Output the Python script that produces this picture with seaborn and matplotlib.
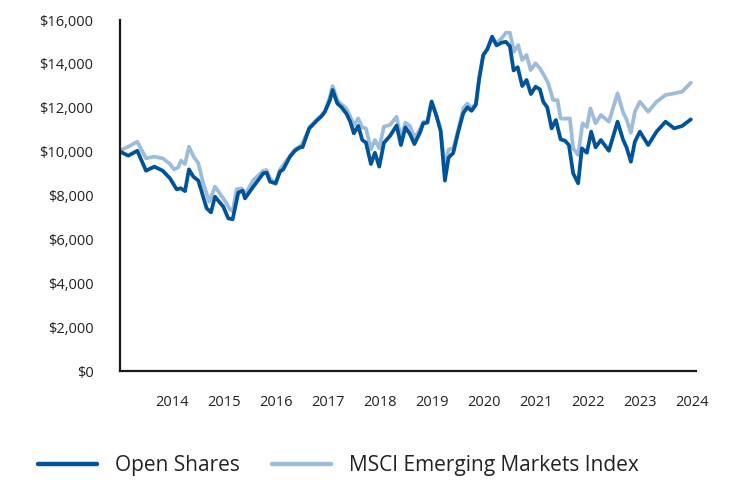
import matplotlib
matplotlib.use("Agg")
import matplotlib.pyplot as plt
import matplotlib.ticker as mticker
from matplotlib.lines import Line2D
import seaborn as sns
import pandas as pd

# ---- data (decimal years, dollar values) ----
fund_t = [2013.000, 2013.160, 2013.333, 2013.500, 2013.660, 2013.821, 2013.962,
          2014.090, 2014.167, 2014.250, 2014.327, 2014.410, 2014.506, 2014.667, 2014.750, 2014.827, 2014.987,
          2015.083, 2015.167, 2015.275, 2015.360, 2015.404, 2015.563, 2015.756, 2015.821, 2015.885, 2015.994,
          2016.077, 2016.140, 2016.269, 2016.365, 2016.462, 2016.513, 2016.640, 2016.706, 2016.783, 2016.878, 2016.942,
          2017.038, 2017.090, 2017.179, 2017.263, 2017.359, 2017.429, 2017.498, 2017.583, 2017.660, 2017.731, 2017.827, 2017.904, 2017.987,
          2018.077, 2018.192, 2018.321, 2018.404, 2018.490, 2018.577, 2018.663, 2018.769, 2018.833, 2018.913, 2018.994,
          2019.090, 2019.167, 2019.250, 2019.321, 2019.410, 2019.506, 2019.603, 2019.683, 2019.763, 2019.846, 2019.908, 2019.987,
          2020.067, 2020.158, 2020.244, 2020.340, 2020.423, 2020.500, 2020.571, 2020.650, 2020.737, 2020.821, 2020.904, 2020.994,
          2021.077, 2021.141, 2021.218, 2021.303, 2021.385, 2021.475, 2021.558, 2021.635, 2021.717, 2021.813, 2021.885, 2021.981,
          2022.064, 2022.148, 2022.250, 2022.404, 2022.571, 2022.679, 2022.744, 2022.827, 2022.904,
          2023.000, 2023.160, 2023.321, 2023.494, 2023.660, 2023.813, 2023.981]
fund_v = [10000, 9815, 10040, 9130, 9315, 9130, 8780,
          8280, 8330, 8200, 9190, 8860, 8680, 7415, 7230, 7945, 7490,
          6960, 6915, 8130, 8220, 7870, 8400, 9010, 9040, 8630, 8555,
          9085, 9190, 9770, 10040, 10195, 10210, 11060, 11215, 11410, 11620, 11820,
          12350, 12810, 12200, 12020, 11715, 11365, 10835, 11170, 10530, 10410, 9435, 9950, 9315,
          10400, 10710, 11190, 10300, 11105, 10800, 10345, 10860, 11290, 11320, 12275,
          11600, 10950, 8680, 9730, 9935, 10900, 11750, 12020, 11860, 12140, 13300, 14400,
          14670, 15240, 14840, 14965, 15005, 14800, 13700, 13850, 12990, 13265, 12625, 12960,
          12840, 12275, 12020, 11060, 11440, 10560, 10500, 10300, 9010, 8555, 10150, 9950,
          10910, 10195, 10530, 10040, 11365, 10530, 10195, 9540, 10450,
          10910, 10300, 10910, 11365, 11060, 11170, 11470]

index_t = [2013.000, 2013.160, 2013.333, 2013.500, 2013.660, 2013.821, 2013.962,
           2014.038, 2014.121, 2014.173, 2014.250, 2014.327, 2014.410, 2014.506, 2014.602, 2014.718, 2014.827, 2014.987,
           2015.115, 2015.167, 2015.244, 2015.340, 2015.404, 2015.563, 2015.756, 2015.821, 2015.885, 2015.994,
           2016.077, 2016.205, 2016.365, 2016.494, 2016.654, 2016.783, 2016.878, 2016.942,
           2017.038, 2017.090, 2017.179, 2017.263, 2017.359, 2017.429, 2017.498, 2017.583, 2017.660, 2017.731, 2017.827, 2017.904, 2017.987,
           2018.077, 2018.192, 2018.321, 2018.404, 2018.490, 2018.577, 2018.663, 2018.769, 2018.833, 2018.913, 2018.994,
           2019.090, 2019.167, 2019.250, 2019.321, 2019.410, 2019.506, 2019.603, 2019.683, 2019.763, 2019.846, 2019.908, 2019.987,
           2020.067, 2020.158, 2020.244, 2020.340, 2020.423, 2020.500, 2020.577, 2020.660, 2020.737, 2020.821, 2020.898, 2020.994,
           2021.077, 2021.154, 2021.237, 2021.333, 2021.417, 2021.475, 2021.558, 2021.654, 2021.717, 2021.813, 2021.898, 2021.981,
           2022.048, 2022.148, 2022.250, 2022.404, 2022.571, 2022.679, 2022.744, 2022.827, 2022.904,
           2023.000, 2023.160, 2023.321, 2023.494, 2023.660, 2023.813, 2023.981]
index_v = [10050, 10225, 10450, 9695, 9770, 9695, 9435,
           9190, 9285, 9590, 9435, 10225, 9800, 9465, 8555, 7715, 8400, 7870,
           7370, 7280, 8280, 8330, 8020, 8705, 9130, 9160, 8780, 8525,
           9190, 9590, 10100, 10300, 11140, 11450, 11650, 11850,
           12500, 12990, 12350, 12150, 11950, 11600, 11200, 11515, 11100, 11060, 10100, 10530, 10150,
           11140, 11215, 11590, 10605, 11320, 11170, 10650, 11000, 11350, 11400, 12300,
           11650, 11000, 9300, 10100, 10150, 11000, 11970, 12200, 11970, 12200, 13350, 14400,
           14700, 15150, 14940, 15160, 15420, 15420, 14555, 14860, 14175, 14400, 13720, 14025,
           13795, 13490, 13115, 12350, 12350, 11515, 11500, 11515, 10150, 9845, 11290, 11120,
           11970, 11290, 11670, 11365, 12655, 11775, 11470, 10860, 11820,
           12275, 11820, 12275, 12580, 12655, 12730, 13140]

series_names = ["Open Shares", "MSCI Emerging Markets Index"]
colors = {"Open Shares": "#00539B", "MSCI Emerging Markets Index": "#9DBCDA"}
year_ticks = list(range(2014, 2025))

df = pd.concat([
    pd.DataFrame({"t": index_t, "value": index_v, "series": series_names[1]}),
    pd.DataFrame({"t": fund_t, "value": fund_v, "series": series_names[0]}),
], ignore_index=True)

sns.set_theme(style="white")
plt.rcParams["font.family"] = ["Open Sans", "DejaVu Sans"]

fig = plt.figure(figsize=(7.32, 4.80), dpi=100)
ax = fig.add_axes([120 / 732, 1 - 371 / 480, 576 / 732, 351 / 480])

sns.lineplot(data=df, x="t", y="value", hue="series",
             hue_order=[series_names[1], series_names[0]],
             palette=colors, linewidth=2.7, estimator=None, sort=False,
             legend=False, ax=ax)

ax.set_xlim(2013.0, 2024.08)
ax.set_ylim(0, 16000)
ax.set_xticks(year_ticks)
ax.set_xticklabels([str(y) for y in year_ticks])
ax.yaxis.set_major_locator(mticker.MultipleLocator(2000))
ax.yaxis.set_major_formatter(mticker.FuncFormatter(lambda v, p: f"${v:,.0f}"))
ax.set_xlabel("")
ax.set_ylabel("")
ax.grid(False)
for s in ["top", "right"]:
    ax.spines[s].set_visible(False)
for s in ["left", "bottom"]:
    ax.spines[s].set_color("#1a1a1a")
    ax.spines[s].set_linewidth(1.6)
ax.tick_params(axis="both", length=0, labelsize=10.5, colors="#222222")
ax.tick_params(axis="y", pad=19)
ax.tick_params(axis="x", pad=17)

handles = [Line2D([0], [0], color=colors[n], linewidth=3.2) for n in series_names]
fig.legend(handles, series_names, loc="center left", bbox_to_anchor=(0.026, 0.030),
           frameon=False, ncol=2, fontsize=15, handlelength=2.85,
           handletextpad=0.88, columnspacing=1.5, labelcolor="#222222")

fig.savefig("out.png", dpi=100)
